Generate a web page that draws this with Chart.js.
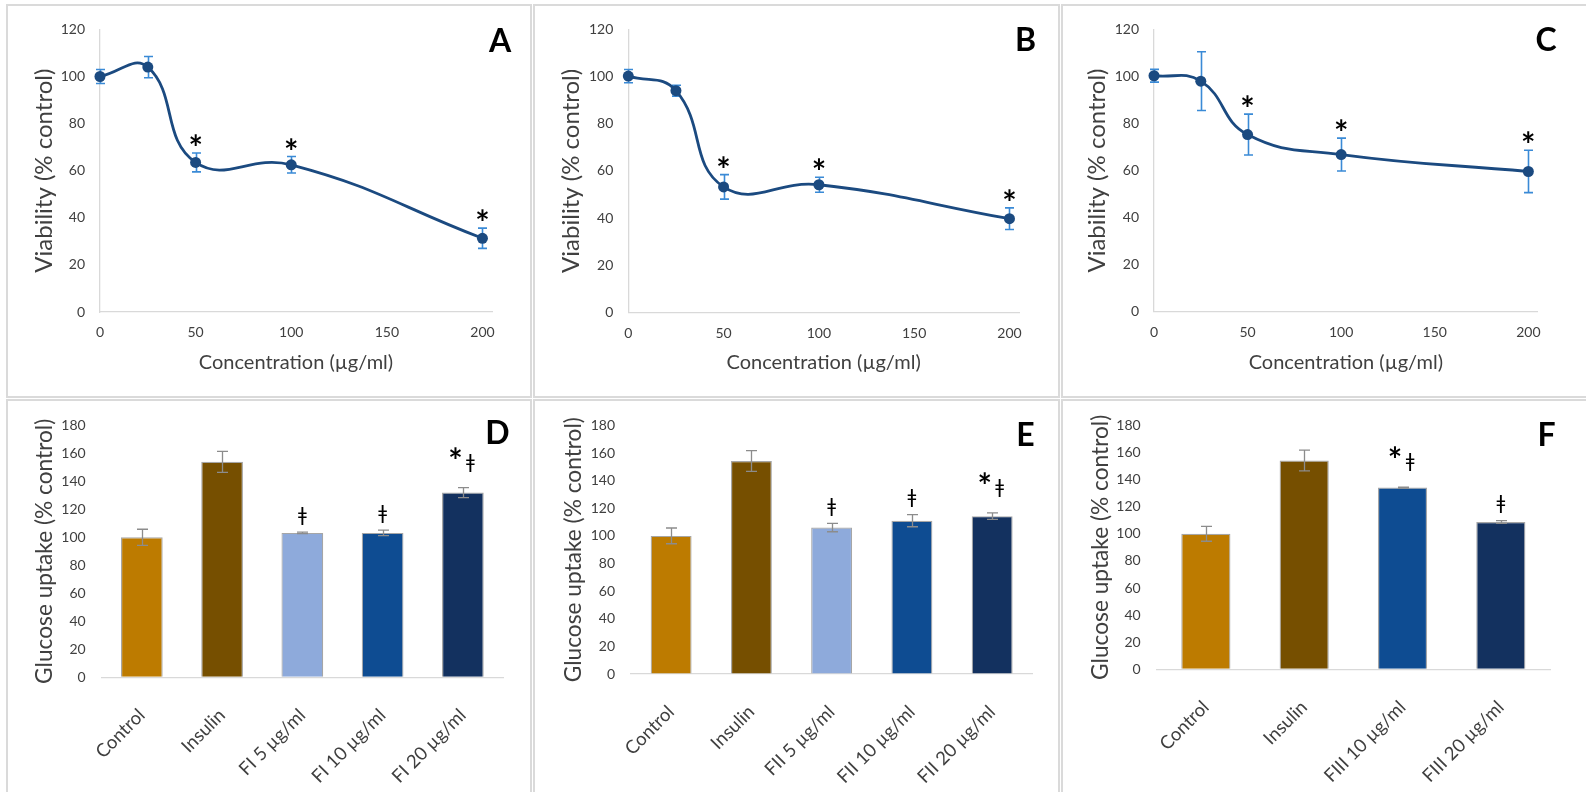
<!DOCTYPE html>
<html><head><meta charset="utf-8">
<script src="https://cdn.jsdelivr.net/npm/chart.js@4.4.1/dist/chart.umd.min.js"></script>
<style>
html,body{margin:0;padding:0;background:#fff}
body{width:1586px;height:792px;overflow:hidden;position:relative;font-family:Lato,sans-serif}
.frame{position:absolute;border:2px solid #dadada;box-sizing:border-box}
canvas{position:absolute}
.letter{position:absolute;font-weight:bold;font-size:32px;font-family:Lato,sans-serif;color:#000;transform:translate(-50%,-50%);line-height:1}
</style></head><body>
<div class="frame" style="left:6px;top:4px;width:526px;height:394px"></div>
<div class="frame" style="left:533px;top:4px;width:527px;height:394px"></div>
<div class="frame" style="left:1061px;top:4px;width:540px;height:394px"></div>
<div class="frame" style="left:6px;top:399px;width:526px;height:400px"></div>
<div class="frame" style="left:533px;top:399px;width:527px;height:400px"></div>
<div class="frame" style="left:1061px;top:399px;width:540px;height:400px"></div>
<canvas id="cA"></canvas><canvas id="cB"></canvas><canvas id="cC"></canvas>
<canvas id="cD"></canvas><canvas id="cE"></canvas><canvas id="cF"></canvas>
<div class="letter" style="left:500px;top:40px">A</div>
<div class="letter" style="left:1025.5px;top:39px">B</div>
<div class="letter" style="left:1546px;top:39px">C</div>
<div class="letter" style="left:497.5px;top:432px">D</div>
<div class="letter" style="left:1025.5px;top:433.5px">E</div>
<div class="letter" style="left:1546.5px;top:433.5px">F</div>
<script>
// ---------- data ----------
const concentrations = [0, 25, 50, 100, 200];
const concentrationTicks = [0, 50, 100, 150, 200];

const viabilityA = [100, 104, 63.5, 62.5, 31.3];
const viabilityErrA = [3, 4.5, 4, 3.5, 4.3];
const viabilitySigA = ['', '', '*', '*', '*'];

const viabilityB = [100.2, 94, 53.2, 54.1, 39.7];
const viabilityErrB = [2.8, 2.3, 5.2, 3.2, 4.6];
const viabilitySigB = ['', '', '*', '*', '*'];

const viabilityC = [100.3, 98, 75.3, 66.8, 59.6];
const viabilityErrC = [2.7, 12.5, 8.7, 7, 9];
const viabilitySigC = ['', '', '*', '*', '*'];

const groupsD = ['Control', 'Insulin', 'FI 5 µg/ml', 'FI 10 µg/ml', 'FI 20 µg/ml'];
const uptakeD = [100, 154, 103.2, 103.2, 132];
const uptakeErrD = [5.8, 7.5, 0.5, 2, 3.6];
const uptakeSigD = ['', '', 'ǂ', 'ǂ', '*ǂ'];

const groupsE = ['Control', 'Insulin', 'FII 5 µg/ml', 'FII 10 µg/ml', 'FII 20 µg/ml'];
const uptakeE = [100, 154.2, 106, 111, 114.3];
const uptakeErrE = [5.7, 7.5, 3, 4.4, 2.4];
const uptakeSigE = ['', '', 'ǂ', 'ǂ', '*ǂ'];

const groupsF = ['Control', 'Insulin', 'FIII 10 µg/ml', 'FIII 20 µg/ml'];
const uptakeF = [100, 154.1, 134.1, 108.7];
const uptakeErrF = [5.5, 7.6, 0.3, 1];
const uptakeSigF = ['', '', '*ǂ', 'ǂ'];

// ---------- styles ----------
const FONT = 'Lato, sans-serif';
const TXT = '#404040';
const AXIS = '#d9d9d9';
const LINE_COLOR = '#1b4a80';
const LINE_ERR = '#3a8ad6';
const BAR_ERR = '#8c8c8c';
const colorsDE = ['#bd7b00', '#764f00', '#8eaadb', '#0e4c92', '#13315f'];
const colorsF = ['#bd7b00', '#764f00', '#0e4c92', '#13315f'];

Chart.defaults.font.family = FONT;
Chart.defaults.color = TXT;
Chart.defaults.animation = false;

function drawMark(ctx, text, x, cy, font) {
  ctx.save();
  ctx.font = font;
  ctx.fillStyle = '#000';
  ctx.textAlign = 'center';
  ctx.textBaseline = 'alphabetic';
  const m = ctx.measureText(text);
  const y = cy + (m.actualBoundingBoxAscent - m.actualBoundingBoxDescent) / 2;
  ctx.fillText(text, x, y);
  ctx.restore();
}

const errPlugin = {
  id: 'errbars',
  _draw(chart, o) {
    const ctx = chart.ctx, meta = chart.getDatasetMeta(0), ds = chart.data.datasets[0];
    const ys = chart.scales.y;
    ctx.save();
    ctx.strokeStyle = o.color; ctx.lineWidth = o.width;
    meta.data.forEach((el, i) => {
      const raw = ds.data[i]; const v = typeof raw === 'object' ? raw.y : raw;
      const e = o.errors[i];
      const x = Math.round(el.x) + 0.5;
      const t = ys.getPixelForValue(v + e), b = ys.getPixelForValue(v - e);
      ctx.beginPath();
      ctx.moveTo(x, t); ctx.lineTo(x, b);
      ctx.moveTo(x - o.cap, t); ctx.lineTo(x + o.cap, t);
      ctx.moveTo(x - o.cap, b); ctx.lineTo(x + o.cap, b);
      ctx.stroke();
    });
    ctx.restore();
  },
  _marks(chart, o) {
    const ctx = chart.ctx, meta = chart.getDatasetMeta(0), ds = chart.data.datasets[0];
    const ys = chart.scales.y;
    meta.data.forEach((el, i) => {
      const s = o.sig[i]; if (!s) return;
      const raw = ds.data[i]; const v = typeof raw === 'object' ? raw.y : raw;
      const top = ys.getPixelForValue(v + o.errors[i]);
      if (s === '*') drawMark(ctx, '*', el.x, top - o.starGap, o.starFont);
      else if (s === 'ǂ') drawMark(ctx, 'ǂ', el.x, top - o.dagGap, o.dagFont);
      else {
        drawMark(ctx, '*', el.x - 7.5, top - o.comboStarGap, o.starFont);
        drawMark(ctx, 'ǂ', el.x + 7.5, top - o.comboDagGap, o.dagFont);
      }
    });
  },
  beforeDatasetsDraw(chart, a, o) { if (o.phase === 'before') this._draw(chart, o); },
  afterDatasetsDraw(chart, a, o) { if (o.phase === 'after') this._draw(chart, o); this._marks(chart, o); }
};
Chart.register(errPlugin);

function setupCanvas(id, cv) {
  const c = document.getElementById(id);
  c.width = cv.w; c.height = cv.h;
  c.style.left = cv.l + 'px'; c.style.top = cv.t + 'px';
  c.style.width = cv.w + 'px'; c.style.height = cv.h + 'px';
  return c;
}

function lineChart(id, cv, area, vals, errs, sig, yTitleX, xTitleY) {
  const c = setupCanvas(id, cv);
  const yW = area.l - cv.l, xH = cv.t + cv.h - area.b;
  const ySize = 24, yLH = ySize * 1.2;
  const xSize = 20, xLH = xSize * 1.2;
  new Chart(c, {
    type: 'line',
    data: { datasets: [{
      data: concentrations.map((x, i) => ({ x, y: vals[i] })),
      borderColor: LINE_COLOR, backgroundColor: LINE_COLOR,
      borderWidth: 2.8, pointRadius: 5.5, pointBorderWidth: 0,
      pointBackgroundColor: LINE_COLOR, tension: 0.45, clip: false
    }]},
    options: {
      responsive: false, devicePixelRatio: 1, events: [],
      layout: { padding: { left: 0, top: area.t - cv.t, right: cv.l + cv.w - area.r, bottom: 0 } },
      plugins: { legend: { display: false }, tooltip: { enabled: false },
        errbars: { errors: errs, sig, color: LINE_ERR, width: 1.6, cap: 4.5, phase: 'before',
          starGap: 13, starFont: 'bold 34px ' + FONT, dagGap: 16, dagFont: '19px DejaVu Sans',
          comboStarGap: 35, comboDagGap: 25 } },
      scales: {
        x: { type: 'linear', min: 0, max: 205,
          afterBuildTicks: s => { s.ticks = concentrationTicks.map(v => ({ value: v })); },
          afterFit: s => { s.height = xH; },
          grid: { display: true, color: 'rgba(0,0,0,0)', drawTicks: false },
          border: { display: true, color: AXIS, width: 1.3 },
          ticks: { padding: 12.5, font: { size: 14 }, color: TXT },
          title: { display: true, text: 'Concentration (µg/ml)', color: TXT,
            font: { size: xSize }, padding: { top: 0, bottom: cv.t + cv.h - xTitleY - xLH / 2 } } },
        y: { min: 0, max: 120,
          afterFit: s => { s.width = yW; },
          grid: { display: true, color: 'rgba(0,0,0,0)', drawTicks: false },
          border: { display: true, color: AXIS, width: 1.3 },
          ticks: { stepSize: 20, padding: 15, font: { size: 14 }, color: TXT },
          title: { display: true, text: 'Viability (% control)', color: TXT,
            font: { size: ySize }, padding: { top: yTitleX - cv.l - yLH / 2, bottom: 0 } } }
      }
    }
  });
}

function barChart(id, cv, area, cats, vals, errs, sig, colors, catPct, yTitleX) {
  const c = setupCanvas(id, cv);
  const yW = area.l - cv.l, xH = cv.t + cv.h - area.b;
  const tSize = 22.7, tLH = tSize * 1.2;
  new Chart(c, {
    type: 'bar',
    data: { labels: cats, datasets: [{
      data: vals, backgroundColor: colors, borderColor: '#a6a6a6', borderWidth: 1.2,
      barPercentage: 1, categoryPercentage: catPct
    }]},
    options: {
      responsive: false, devicePixelRatio: 1, events: [],
      layout: { padding: { left: 0, top: area.t - cv.t, right: cv.l + cv.w - area.r, bottom: 0 } },
      plugins: { legend: { display: false }, tooltip: { enabled: false },
        errbars: { errors: errs, sig, color: BAR_ERR, width: 1.3, cap: 5.5, phase: 'after',
          starGap: 13, starFont: 'bold 34px ' + FONT, dagGap: 16.5, dagFont: '19px DejaVu Sans',
          comboStarGap: 35, comboDagGap: 25 } },
      scales: {
        x: { afterFit: s => { s.height = xH; },
          grid: { display: true, color: 'rgba(0,0,0,0)', drawTicks: false },
          border: { display: true, color: AXIS, width: 1.3 },
          ticks: { padding: 27, font: { size: 18.5 }, color: TXT, autoSkip: false, maxRotation: 45, minRotation: 45 } },
        y: { min: 0, max: 180,
          afterFit: s => { s.width = yW; },
          grid: { display: true, color: 'rgba(0,0,0,0)', drawTicks: false },
          border: { display: false },
          ticks: { stepSize: 20, padding: 16, font: { size: 14 }, color: TXT },
          title: { display: true, text: 'Glucose uptake (% control)', color: TXT,
            font: { size: tSize }, padding: { top: yTitleX - cv.l - tLH / 2, bottom: 0 } } }
      }
    }
  });
}

lineChart('cA', { l: 8, t: 6, w: 522, h: 390 }, { l: 100, r: 492, t: 25, b: 312 },
  viabilityA, viabilityErrA, viabilitySigA, 44.7, 362.7);
lineChart('cB', { l: 535, t: 6, w: 523, h: 390 }, { l: 628.3, r: 1019, t: 25, b: 312.3 },
  viabilityB, viabilityErrB, viabilitySigB, 571.2, 362.5);
lineChart('cC', { l: 1063, t: 6, w: 523, h: 390 }, { l: 1154, r: 1537.7, t: 25, b: 311.7 },
  viabilityC, viabilityErrC, viabilitySigC, 1097.2, 362.3);

barChart('cD', { l: 8, t: 401, w: 522, h: 391 }, { l: 101.7, r: 503, t: 420.7, b: 677.3 },
  groupsD, uptakeD, uptakeErrD, uptakeSigD, colorsDE, 0.52, 45);
barChart('cE', { l: 535, t: 401, w: 523, h: 391 }, { l: 631, r: 1032.3, t: 421, b: 674 },
  groupsE, uptakeE, uptakeErrE, uptakeSigE, colorsDE, 0.51, 573.7);
barChart('cF', { l: 1063, t: 401, w: 523, h: 391 }, { l: 1156.7, r: 1550, t: 421, b: 669.3 },
  groupsF, uptakeF, uptakeErrF, uptakeSigF, colorsF, 0.5, 1100.3);
</script>
</body></html>
